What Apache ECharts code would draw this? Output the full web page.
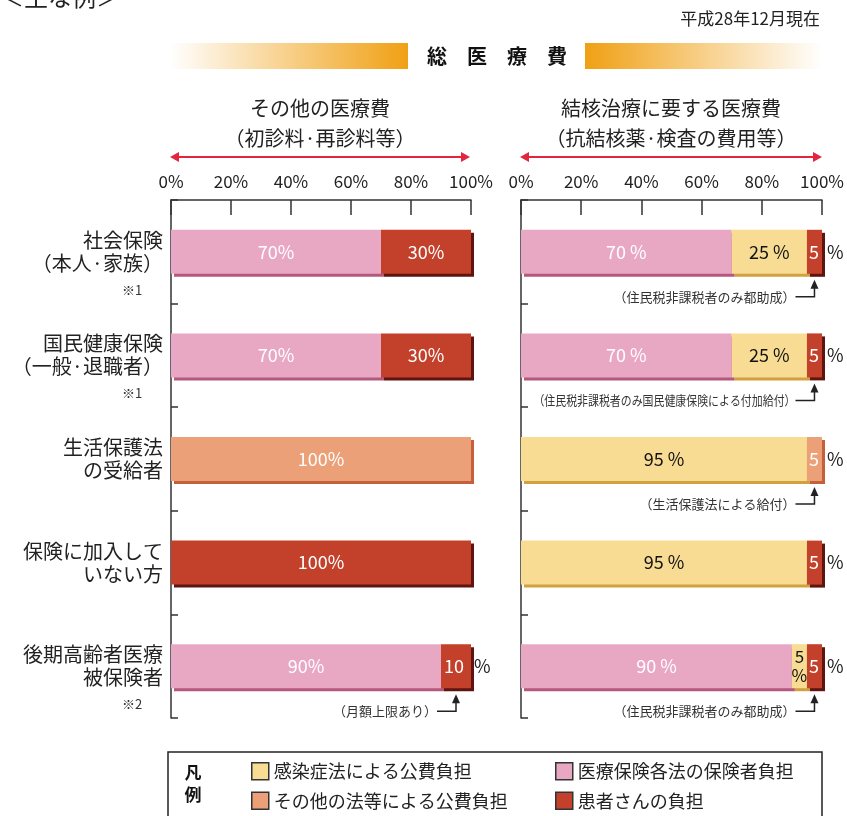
<!DOCTYPE html>
<html>
<head>
<meta charset="utf-8">
<script src="https://cdn.jsdelivr.net/npm/echarts@6/dist/echarts.min.js"></script>
<style>
  html, body { margin: 0; padding: 0; background: #fff; }
  #chart { width: 847px; height: 816px; }
</style>
</head>
<body>
<div id="chart"></div>
<script>
const FONT = '"Noto Sans CJK JP", "Noto Sans", sans-serif';

const categories = [
  '社会保険\n（本人·家族）',
  '国民健康保険\n（一般·退職者）',
  '生活保護法\nの受給者',
  '保険に加入して\nいない方',
  '後期高齢者医療\n被保険者',
];
const categoryNotes = ['※1', '※1', '', '', '※2'];

// その他の医療費（初診料·再診料等）
const leftInsurer = [70, 70, 0, 0, 90];
const leftOtherPublic = [0, 0, 100, 0, 0];
const leftPatient = [30, 30, 0, 100, 10];

// 結核治療に要する医療費（抗結核薬·検査の費用等）
const rightInsurer = [70, 70, 0, 0, 90];
const rightInfection = [25, 25, 95, 95, 5];
const rightOtherPublic = [0, 0, 5, 0, 0];
const rightPatient = [5, 5, 0, 5, 5];

const leftNotes = ['', '', '', '', '（月額上限あり）'];
const rightNotes = [
  '（住民税非課税者のみ都助成）',
  '（住民税非課税者のみ国民健康保険による付加給付）',
  '（生活保護法による給付）',
  '',
  '（住民税非課税者のみ都助成）',
];

const NAME_INFECTION = '感染症法による公費負担';
const NAME_OTHER = 'その他の法等による公費負担';
const NAME_INSURER = '医療保険各法の保険者負担';
const NAME_PATIENT = '患者さんの負担';

const COLORS = {
  insurer: ['#e8a8c4', '#b4587c'],
  other: ['#eca077', '#c4603a'],
  patient: ['#c3402b', '#5e1410'],
  infection: ['#f9dc93', '#d1a140'],
};

// one data item per category; small end-of-stack segments show "%" outside the bar
function makeData(values, opts) {
  return values.map(v => {
    if (!v) return '-';
    const item = { value: v };
    if (v <= 10 && opts.end) {
      item.label = {
        position: 'insideLeft',
        distance: v === 10 ? 3 : 2,
        formatter: '{n|' + v + '}{p|%}',
        rich: {
          n: { color: opts.color, fontSize: 18, fontFamily: FONT },
          p: { color: '#222', fontSize: 18, fontFamily: FONT, padding: [0, 0, 0, v === 10 ? 10 : 8] },
        },
      };
    } else if (v <= 10) {
      item.label = { formatter: v + '\n%', lineHeight: 19, fontSize: 17 };
    }
    return item;
  });
}

function barSeries(name, values, key, axis, labelColor, end, sep) {
  return {
    name,
    type: 'bar',
    stack: 'total' + axis,
    xAxisIndex: axis,
    yAxisIndex: axis,
    barWidth: 44,
    itemStyle: {
      color: COLORS[key][0],
      shadowColor: COLORS[key][1],
      shadowOffsetX: 3,
      shadowOffsetY: 3,
      shadowBlur: 0,
    },
    label: {
      show: true,
      position: 'inside',
      color: labelColor,
      fontSize: 18,
      fontFamily: FONT,
      formatter: p => p.value + sep + '%',
    },
    emphasis: { disabled: true },
    data: makeData(values, { end, color: labelColor }),
  };
}

const xAxisBase = {
  type: 'value',
  position: 'top',
  min: 0,
  max: 100,
  interval: 20,
  axisLine: { show: true, lineStyle: { color: '#333', width: 1.5 } },
  axisTick: { show: true, inside: true, length: 15, lineStyle: { color: '#333', width: 1.5 } },
  axisLabel: { formatter: '{value}%', color: '#222', fontSize: 17, fontFamily: FONT, margin: 10 },
  splitLine: { show: false },
};

const yAxisBase = {
  type: 'category',
  inverse: true,
  data: categories,
  axisLine: { show: true, lineStyle: { color: '#333', width: 1.5 } },
  axisTick: { show: true, inside: true, length: 7, lineStyle: { color: '#333', width: 1.5 } },
};

const legendBase = {
  orient: 'vertical', top: 762, height: 120, padding: 0,
  itemWidth: 17, itemHeight: 17, itemGap: 11,
  icon: 'rect', selectedMode: false,
  textStyle: { color: '#222', fontSize: 18, fontFamily: FONT },
  itemStyle: { borderColor: '#333', borderWidth: 1.5, shadowBlur: 0, shadowOffsetX: 0, shadowOffsetY: 0, shadowColor: 'transparent' },
};

const chart = echarts.init(document.getElementById('chart'));

chart.setOption({
  animation: false,
  textStyle: { fontFamily: FONT },
  grid: [
    { left: 171, top: 200, width: 300, height: 518 },
    { left: 521, top: 200, width: 301, height: 518 },
  ],
  xAxis: [
    { ...xAxisBase, gridIndex: 0 },
    { ...xAxisBase, gridIndex: 1 },
  ],
  yAxis: [
    {
      ...yAxisBase,
      gridIndex: 0,
      axisLabel: { color: '#222', fontSize: 20, lineHeight: 23, fontFamily: FONT, margin: 8, padding: [8, 0, 0, 0] },
    },
    { ...yAxisBase, gridIndex: 1, axisLabel: { show: false } },
  ],
  legend: [
    { ...legendBase, left: 251, data: [NAME_INFECTION, NAME_OTHER] },
    { ...legendBase, left: 555, data: [NAME_INSURER, NAME_PATIENT] },
  ],
  series: [
    barSeries(NAME_INSURER, leftInsurer, 'insurer', 0, '#fff', false, ''),
    barSeries(NAME_OTHER, leftOtherPublic, 'other', 0, '#fff', true, ''),
    barSeries(NAME_PATIENT, leftPatient, 'patient', 0, '#fff', true, ''),
    barSeries(NAME_INSURER, rightInsurer, 'insurer', 1, '#fff', false, ' '),
    barSeries(NAME_INFECTION, rightInfection, 'infection', 1, '#111', false, ' '),
    barSeries(NAME_OTHER, rightOtherPublic, 'other', 1, '#fff', true, ' '),
    barSeries(NAME_PATIENT, rightPatient, 'patient', 1, '#fff', true, ' '),
  ],
});

// ---- decorations: banner, titles, notes, legend frame ----
const graphics = [];
const txt = (text, x, y, size, extra) => graphics.push({
  type: 'text', x, y, silent: true,
  style: Object.assign({ text, fill: '#222', font: size + 'px ' + FONT, align: 'center', verticalAlign: 'middle' }, extra || {}),
});

txt('＜主な例＞', 0, -3, 24, { align: 'left' });
txt('平成28年12月現在', 820, 19, 17, { align: 'right' });

// banner
graphics.push({
  type: 'rect', silent: true, shape: { x: 170, y: 43, width: 238, height: 26 },
  style: { fill: new echarts.graphic.LinearGradient(0, 0, 1, 0, [
    { offset: 0, color: '#ffffff' }, { offset: 1, color: '#f0a014' },
  ]) },
});
graphics.push({
  type: 'rect', silent: true, shape: { x: 585, y: 43, width: 237, height: 26 },
  style: { fill: new echarts.graphic.LinearGradient(0, 0, 1, 0, [
    { offset: 0, color: '#f0a014' }, { offset: 1, color: '#ffffff' },
  ]) },
});
txt('総　医　療　費', 497, 56, 20, { font: 'bold 20px ' + FONT, fill: '#111' });

// column titles with double arrows
const titles = [
  { lines: ['その他の医療費', '（初診料·再診料等）'], from: 170, to: 470 },
  { lines: ['結核治療に要する医療費', '（抗結核薬·検査の費用等）'], from: 520, to: 822 },
];
titles.forEach(t => {
  const cx = (t.from + t.to) / 2;
  txt(t.lines[0], cx, 108, 20);
  txt(t.lines[1], cx, 138, 20);
  graphics.push({ type: 'line', silent: true, shape: { x1: t.from + 6, y1: 157, x2: t.to - 6, y2: 157 }, style: { stroke: '#e2263e', lineWidth: 2 } });
  graphics.push({ type: 'polygon', silent: true, shape: { points: [[t.from, 157], [t.from + 9, 152], [t.from + 9, 162]] }, style: { fill: '#e2263e' } });
  graphics.push({ type: 'polygon', silent: true, shape: { points: [[t.to, 157], [t.to - 9, 152], [t.to - 9, 162]] }, style: { fill: '#e2263e' } });
});

// ※ notes under category labels
categoryNotes.forEach((note, i) => {
  if (!note) return;
  const cy = chart.convertToPixel({ xAxisIndex: 0, yAxisIndex: 0 }, [0, i])[1];
  txt(note, 132, cy + 38, 13, { fill: '#333' });
});

// annotation text with an arrow pointing up to the end segment
function addNotes(notes, axis, lastValues) {
  notes.forEach((note, i) => {
    if (!note) return;
    const end = 100 - lastValues[i] / 2;
    const [ax, cy] = chart.convertToPixel({ xAxisIndex: axis, yAxisIndex: axis }, [end, i]);
    const ty = cy + 45;
    const tipY = cy + 28;
    const tx = ax - 19;
    graphics.push({
      type: 'text', silent: true, x: tx, y: ty,
      scaleX: note.length > 20 ? 0.84 : 1,
      style: { text: note, fill: '#333', font: '13px ' + FONT, align: 'right', verticalAlign: 'middle' },
    });
    graphics.push({ type: 'polyline', silent: true, shape: { points: [[tx, ty], [ax, ty], [ax, tipY + 6]] }, style: { stroke: '#222', lineWidth: 1.5, fill: null } });
    graphics.push({ type: 'polygon', silent: true, shape: { points: [[ax, tipY], [ax - 4, tipY + 9], [ax + 4, tipY + 9]] }, style: { fill: '#222' } });
  });
}
addNotes(leftNotes, 0, leftPatient.map((v, i) => v || leftOtherPublic[i]));
addNotes(rightNotes, 1, rightPatient.map((v, i) => v || rightOtherPublic[i]));

// legend frame
graphics.push({ type: 'rect', silent: true, shape: { x: 168, y: 752, width: 654, height: 80 }, style: { fill: null, stroke: '#222', lineWidth: 1.5 } });
txt('凡', 193, 773, 17, { font: 'bold 17px ' + FONT, fill: '#111' });
txt('例', 193, 795, 17, { font: 'bold 17px ' + FONT, fill: '#111' });

chart.setOption({ graphic: graphics });
</script>
</body>
</html>
